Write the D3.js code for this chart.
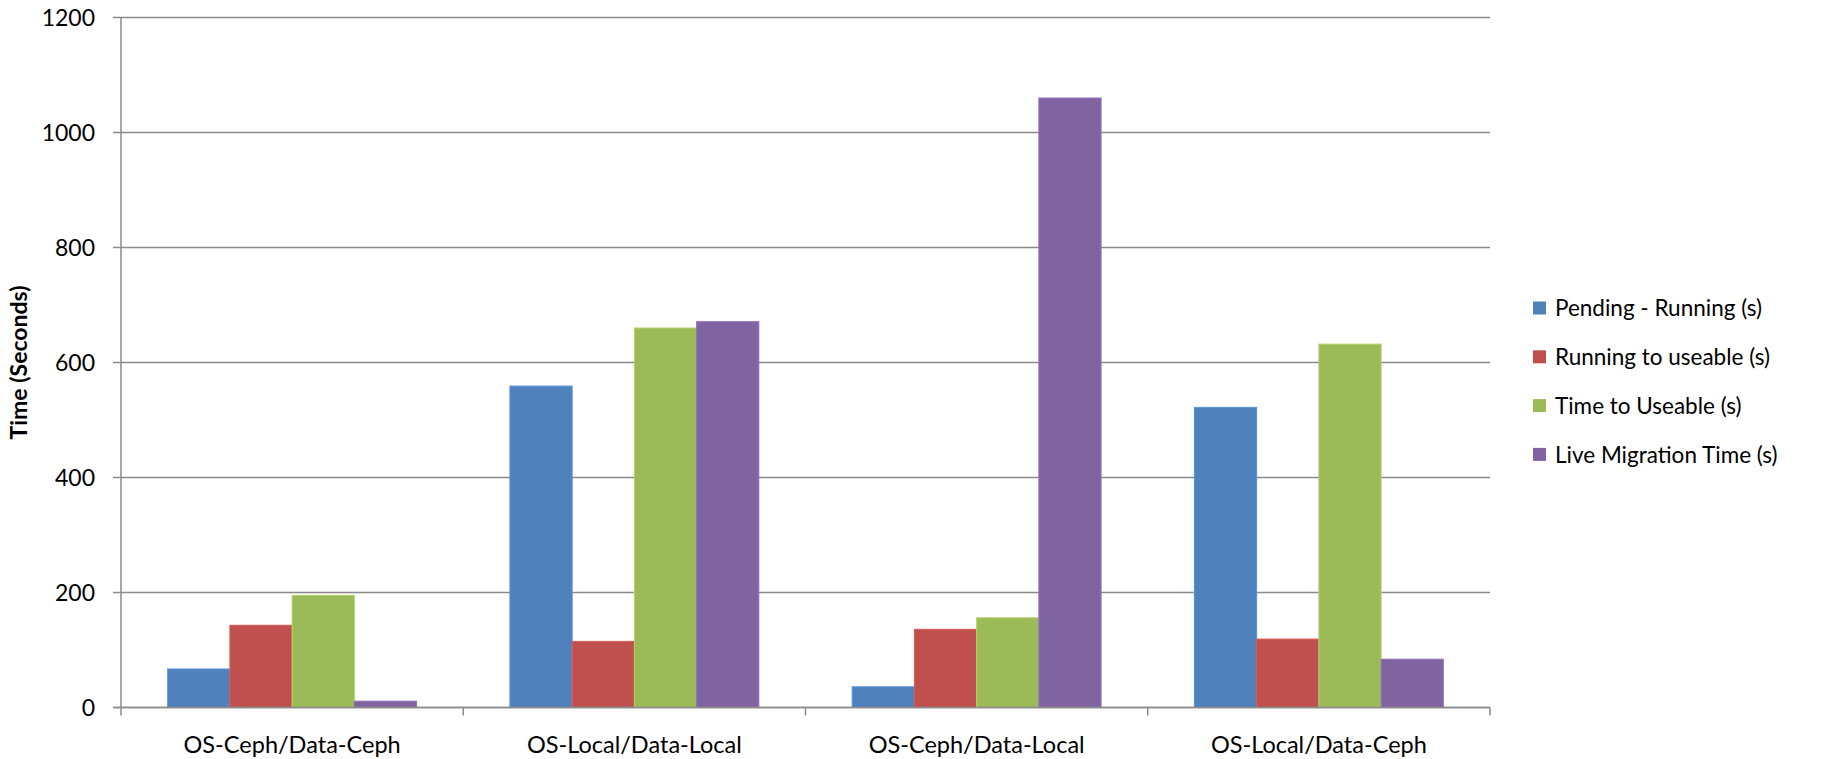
<!DOCTYPE html>
<html>
<head>
<meta charset="utf-8">
<script src="https://cdn.jsdelivr.net/npm/d3@7"></script>
<style>
  html, body { margin: 0; padding: 0; background: #fff; }
  svg { display: block; }
  text { font-family: Lato, "Open Sans", sans-serif; fill: #000; }
</style>
</head>
<body>
<svg id="chart" width="1825" height="759"></svg>
<script>
const categories = ["OS-Ceph/Data-Ceph", "OS-Local/Data-Local", "OS-Ceph/Data-Local", "OS-Local/Data-Ceph"];
const seriesNames = ["Pending - Running (s)", "Running to useable (s)", "Time to Useable (s)", "Live Migration Time (s)"];
const pendingRunning = [67, 559, 36, 522];
const runningToUseable = [143, 115, 136, 119];
const timeToUseable = [195, 660, 156, 632];
const liveMigration = [11, 671, 1060, 84];
const yTicks = [0, 200, 400, 600, 800, 1000, 1200];
const colors = ["#4F81BD", "#C0504D", "#9BBB59", "#8064A2"];
const yTitle = "Time (Seconds)";

const seriesValues = [pendingRunning, runningToUseable, timeToUseable, liveMigration];

const svg = d3.select("#chart");
const plotLeft = 121, plotRight = 1490, plotTop = 17.5, plotBottom = 707.5;

const x = d3.scaleBand().domain(categories).range([plotLeft, plotRight]).padding(0);
const xInner = d3.scaleBand().domain(d3.range(seriesNames.length))
  .range([0, x.bandwidth()]).paddingInner(0).paddingOuter(0.75);
const y = d3.scaleLinear().domain([0, 1200]).range([plotBottom, plotTop]);

const gridColor = "#8a8a8a";

// gridlines
svg.append("g").selectAll("line").data(yTicks).join("line")
  .attr("x1", plotLeft - 8).attr("x2", plotRight)
  .attr("y1", d => y(d)).attr("y2", d => y(d))
  .attr("stroke", gridColor).attr("stroke-width", 1.5);

// y axis line
svg.append("line").attr("x1", plotLeft).attr("x2", plotLeft)
  .attr("y1", y(1200)).attr("y2", y(0))
  .attr("stroke", gridColor).attr("stroke-width", 1.5);

// y tick labels
svg.append("g").selectAll("text").data(yTicks).join("text")
  .attr("x", 95).attr("y", d => y(d))
  .attr("dy", "0.35em")
  .attr("text-anchor", "end")
  .style("font-size", "23px")
  .text(d => d);

// bars
const groups = svg.append("g").selectAll("g").data(categories).join("g")
  .attr("transform", d => `translate(${x(d)},0)`);
groups.selectAll("rect")
  .data((c, ci) => seriesValues.map((vals, si) => ({ si, v: vals[ci] })))
  .join("rect")
  .attr("x", d => xInner(d.si))
  .attr("width", xInner.bandwidth())
  .attr("y", d => y(d.v))
  .attr("height", d => y(0) - y(d.v))
  .attr("fill", d => colors[d.si])
  .attr("stroke", d => d3.color(colors[d.si]).brighter(0.35))
  .attr("stroke-width", 1);

// x axis line (drawn over bars)
svg.append("line").attr("x1", plotLeft - 8).attr("x2", plotRight)
  .attr("y1", y(0)).attr("y2", y(0))
  .attr("stroke", gridColor).attr("stroke-width", 1.5);

// category tick marks
const boundaries = categories.map(c => x(c)).concat([x(categories[categories.length - 1]) + x.bandwidth()]);
svg.append("g").selectAll("line").data(boundaries).join("line")
  .attr("x1", d => d).attr("x2", d => d)
  .attr("y1", y(0)).attr("y2", y(0) + 8)
  .attr("stroke", gridColor).attr("stroke-width", 1.5);

// category labels
svg.append("g").selectAll("text").data(categories).join("text")
  .attr("x", d => x(d) + x.bandwidth() / 2)
  .attr("y", 753)
  .attr("text-anchor", "middle")
  .style("font-size", "23.5px")
  .text(d => d);

// y axis title
svg.append("text")
  .attr("transform", `translate(27, ${(plotTop + plotBottom) / 2}) rotate(-90)`)
  .attr("text-anchor", "middle")
  .style("font-size", "23px")
  .style("font-weight", "bold")
  .text(yTitle);

// legend
const legend = svg.append("g").selectAll("g").data(seriesNames).join("g")
  .attr("transform", (d, i) => `translate(1533, ${308 + i * 48.8})`);
legend.append("rect")
  .attr("x", 0).attr("y", -6.5).attr("width", 13).attr("height", 13)
  .attr("fill", (d, i) => colors[i]);
legend.append("text")
  .attr("x", 22).attr("y", 0).attr("dy", "0.36em")
  .style("font-size", "22.5px")
  .text(d => d);
</script>
</body>
</html>
